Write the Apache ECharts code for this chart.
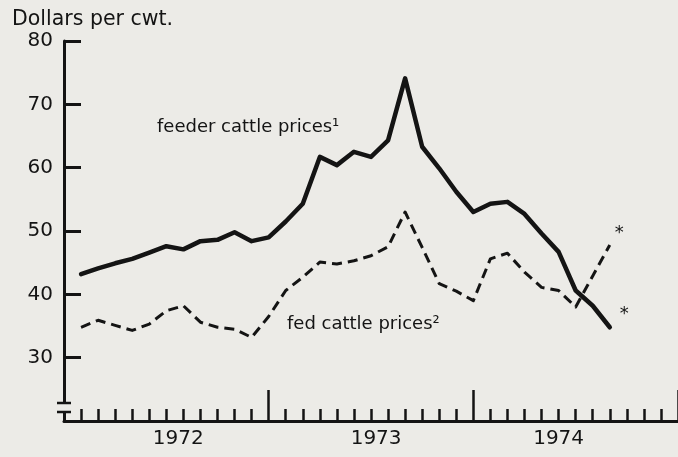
<!DOCTYPE html>
<html>
<head>
<meta charset="utf-8">
<script src="https://cdn.jsdelivr.net/npm/echarts@6/dist/echarts.min.js"></script>
<style>
  html, body { margin: 0; padding: 0; background: #ecebe7; }
  #chart { width: 678px; height: 457px; }
</style>
</head>
<body>
<div id="chart"></div>
<script>
// 月份序号 (1972年1月 = 0)
var months = [1, 2, 3, 4, 5, 6, 7, 8, 9, 10, 11, 12, 13, 14, 15, 16,
  17, 18, 19, 20, 21, 22, 23, 24, 25, 26, 27, 28, 29, 30, 31, 32];
// feeder cattle prices
var feederPrices = [43.2, 44.1, 44.9, 45.6, 46.6, 47.6, 47.1, 48.4, 48.6, 49.8, 48.4, 49.0,
  51.5, 54.3, 61.7, 60.4, 62.5, 61.7, 64.3, 74.1, 63.3, 59.9, 56.2, 53.0,
  54.3, 54.6, 52.7, 49.6, 46.7, 40.6, 38.2, 34.8];
// fed cattle prices
var fedPrices = [34.8, 35.9, 35.1, 34.3, 35.3, 37.4, 38.2, 35.6, 34.8, 34.5, 33.2, 36.5,
  40.6, 42.7, 45.1, 44.8, 45.3, 46.1, 47.5, 53.0, 47.4, 41.7, 40.5, 39.0,
  45.6, 46.5, 43.5, 41.1, 40.6, 38.0, 42.9, 47.8];
// 坐标轴标签
var yTicks = [30, 40, 50, 60, 70, 80];
var yearLabels = ['1972', '1973', '1974'];
var yearLabelAt = [6.7, 18.3, 29.0];

var font = 'DejaVu Sans';
var ink = '#141414';
var bg = '#ecebe7';

function pairs(xs, ys) {
  var out = [];
  for (var i = 0; i < xs.length; i++) {
    out.push([xs[i], ys[i]]);
  }
  return out;
}

var myChart = echarts.init(document.getElementById('chart'));
var option = {
  backgroundColor: bg,
  animation: false,
  title: {
    text: 'Dollars per cwt.',
    left: 7,
    top: 4,
    textStyle: { fontFamily: font, fontSize: 20.5, fontWeight: 'normal', color: ink }
  },
  grid: {
    left: 64,
    right: 0,
    top: 41,
    bottom: 36
  },
  xAxis: [
    {
      type: 'value',
      min: 0,
      max: 36,
      interval: 1,
      splitLine: { show: false },
      axisLine: { show: true, lineStyle: { color: ink, width: 3 } },
      axisTick: { show: true, inside: true, length: 12, lineStyle: { color: ink, width: 2.5 } },
      axisLabel: {
        show: true,
        customValues: yearLabelAt,
        margin: 8,
        fontFamily: font,
        fontSize: 20,
        color: ink,
        formatter: function (val) {
          var idx = yearLabelAt.indexOf(val);
          return idx >= 0 ? yearLabels[idx] : '';
        }
      }
    },
    {
      // 年份分隔长刻度
      type: 'value',
      position: 'bottom',
      min: 0,
      max: 36,
      interval: 12,
      splitLine: { show: false },
      axisLine: { show: false },
      axisTick: { show: true, inside: true, length: 31, lineStyle: { color: ink, width: 2.5 } },
      axisLabel: { show: false }
    }
  ],
  yAxis: {
    type: 'value',
    min: 20,
    max: 80,
    interval: 10,
    splitLine: { show: false },
    axisLine: { show: true, lineStyle: { color: ink, width: 3 } },
    axisTick: { show: true, inside: true, length: 17, customValues: yTicks, lineStyle: { color: ink, width: 3 } },
    axisLabel: {
      customValues: yTicks,
      margin: 11,
      fontFamily: font,
      fontSize: 20,
      color: ink
    }
  },
  series: [
    {
      name: 'feeder cattle prices',
      type: 'line',
      data: pairs(months, feederPrices),
      showSymbol: false,
      lineStyle: { color: ink, width: 4.5, join: 'round', cap: 'round' },
      endLabel: {
        show: true,
        formatter: '*',
        distance: 10,
        offset: [0, -13],
        fontFamily: font,
        fontSize: 18,
        color: ink
      }
    },
    {
      name: 'fed cattle prices',
      type: 'line',
      data: pairs(months, fedPrices),
      showSymbol: false,
      lineStyle: { color: ink, width: 3, type: [10, 6], join: 'round' },
      endLabel: {
        show: true,
        formatter: '*',
        distance: 5,
        offset: [0, -12],
        fontFamily: font,
        fontSize: 18,
        color: ink
      }
    }
  ],
  graphic: [
    // 坐标轴断裂符号
    { type: 'rect', z: 100, shape: { x: 59, y: 404, width: 11, height: 7 }, style: { fill: bg } },
    { type: 'line', z: 101, shape: { x1: 57, y1: 403, x2: 71, y2: 403 }, style: { stroke: ink, lineWidth: 2.5 } },
    { type: 'line', z: 101, shape: { x1: 57, y1: 412, x2: 71, y2: 412 }, style: { stroke: ink, lineWidth: 2.5 } },
    // 线条注释
    {
      type: 'text', z: 100, left: 157, top: 118,
      style: { text: 'feeder cattle prices\u00b9', fontFamily: font, fontSize: 18, fill: ink }
    },
    {
      type: 'text', z: 100, left: 287, top: 315,
      style: { text: 'fed cattle prices\u00b2', fontFamily: font, fontSize: 18, fill: ink }
    }
  ]
};
myChart.setOption(option);
</script>
</body>
</html>
